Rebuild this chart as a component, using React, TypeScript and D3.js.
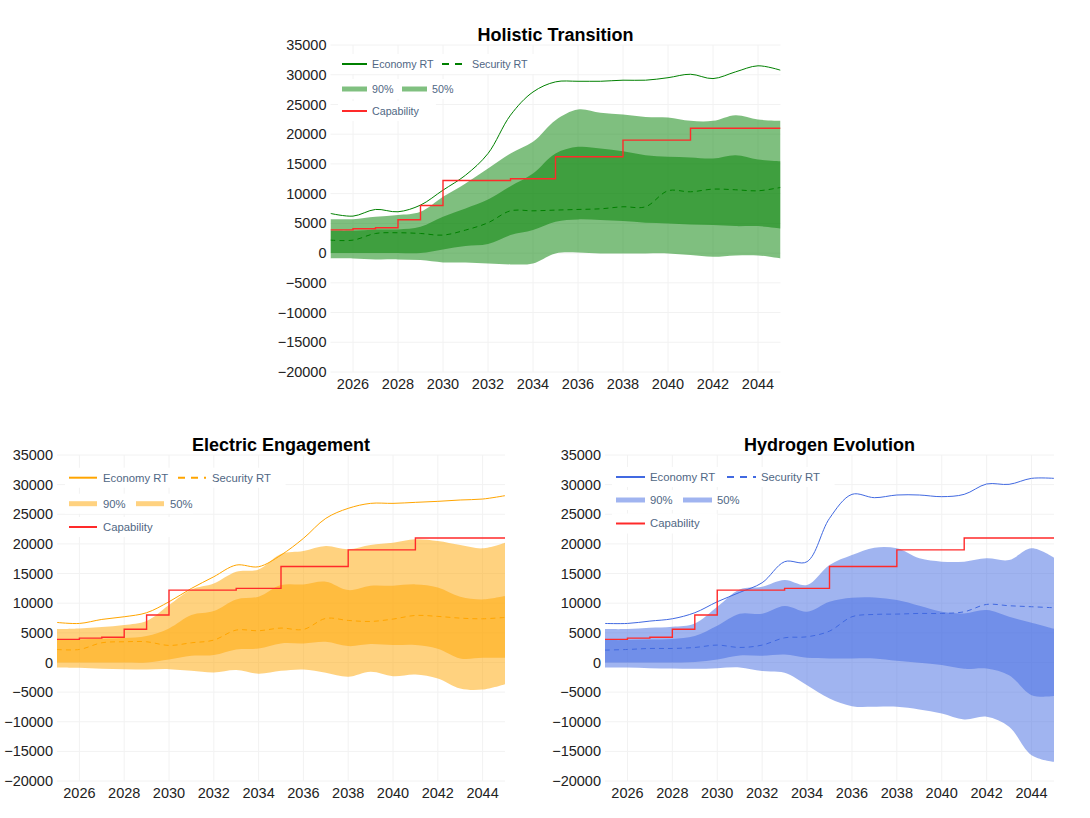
import * as d3 from 'd3';

// shared x categories and capability step line
const years = [2025, 2026, 2027, 2028, 2029, 2030, 2031, 2032, 2033, 2034, 2035, 2036, 2037, 2038, 2039, 2040, 2041, 2042, 2043, 2044, 2045];
const capability = [3900, 4100, 4250, 5600, 8000, 12200, 12200, 12200, 12500, 12500, 16200, 16200, 16200, 19000, 19000, 19000, 21000, 21000, 21000, 21000, 21000];

const xTicks = [2026, 2028, 2030, 2032, 2034, 2036, 2038, 2040, 2042, 2044];
const yTicks = [-20000, -15000, -10000, -5000, 0, 5000, 10000, 15000, 20000, 25000, 30000, 35000];

// Holistic Transition
const holisticEconomy = [6670, 6220, 7340, 6950, 8070, 10590, 13100, 16750, 23200, 27100, 28800, 28900, 28900, 29080, 29080, 29500, 30080, 29350, 30480, 31500, 30760];
const holisticSecurity = [2180, 2180, 3300, 3420, 3300, 3030, 3870, 5100, 7110, 7110, 7230, 7340, 7450, 7790, 7790, 10480, 10310, 10760, 10650, 10480, 11040];
const holisticHigh90 = [5710, 5710, 6100, 6390, 6950, 9470, 11710, 14230, 16750, 18710, 22350, 24150, 23590, 23300, 22910, 22800, 22240, 22240, 23190, 22460, 22240];
const holisticLow90 = [-900, -900, -1060, -1060, -1180, -1570, -1570, -1740, -1900, -1740, -60, 110, -60, -60, -60, -60, -340, -620, -390, -390, -900];
const holisticHigh50 = [3750, 3750, 3980, 3980, 4430, 6110, 7510, 9020, 11260, 13390, 16750, 17870, 17590, 17140, 16470, 16190, 16080, 15910, 16470, 15740, 15460];
const holisticLow50 = [0, 0, 0, 0, 0, 620, 1180, 1510, 3030, 3870, 5270, 5660, 5550, 5380, 5100, 4990, 4820, 4710, 4540, 4540, 4150];

// Electric Engagement
const electricEconomy = [6750, 6580, 7260, 7710, 8390, 10240, 12490, 14460, 16430, 16150, 18120, 20930, 24310, 26000, 26840, 26840, 27010, 27180, 27410, 27570, 28140];
const electricSecurity = [2190, 2190, 3320, 3490, 3490, 2870, 3320, 3770, 5460, 5350, 5800, 5570, 7430, 7090, 6920, 7320, 7930, 7770, 7480, 7370, 7600];
const electricHigh90 = [5630, 5740, 5970, 6300, 6980, 9680, 12320, 13340, 15310, 15700, 18290, 18800, 19640, 19080, 19810, 20200, 20770, 20480, 19810, 19250, 20200];
const electricLow90 = [-840, -900, -1070, -1130, -1180, -1130, -1410, -1690, -1290, -1910, -1410, -1180, -1740, -2420, -1580, -2310, -2030, -2700, -4390, -4560, -3660];
const electricHigh50 = [3770, 3880, 4000, 4110, 4450, 5740, 7990, 8670, 10640, 11090, 13060, 13170, 13620, 12210, 12940, 12940, 13170, 12660, 11090, 10640, 11200];
const electricLow50 = [0, 0, 0, 0, 0, 510, 1130, 1240, 2190, 2360, 3210, 3210, 3490, 2760, 3100, 2930, 2930, 2310, 680, 790, 790];

// Hydrogen Evolution
const hydrogenEconomy = [6580, 6580, 6980, 7370, 8390, 10240, 11820, 13450, 17000, 17000, 24310, 28360, 27800, 28250, 28250, 27970, 28360, 30110, 30050, 31060, 31060];
const hydrogenSecurity = [2080, 2190, 2360, 2360, 2530, 2930, 2530, 2930, 4160, 4330, 5290, 7710, 8100, 8160, 8270, 8270, 8550, 9790, 9570, 9400, 9230];
const hydrogenHigh90 = [5630, 5630, 5850, 6020, 6580, 9400, 12320, 12770, 13900, 13060, 16430, 18120, 19360, 19250, 17560, 17000, 17000, 17560, 17280, 19250, 17670];
const hydrogenLow90 = [-840, -840, -960, -1010, -1070, -960, -840, -1460, -1740, -3830, -6080, -7370, -7480, -7480, -7930, -8610, -9620, -9170, -10860, -15640, -16770];
const hydrogenHigh50 = [3770, 3770, 3880, 3940, 4450, 6190, 8220, 8220, 9510, 8550, 10240, 10920, 10970, 10520, 9570, 8550, 8270, 8830, 7710, 6700, 5680];
const hydrogenLow50 = [0, 0, 0, 0, 60, 510, 1180, 1130, 1350, 790, 680, 680, 680, 280, -60, -450, -1070, -1010, -2140, -5520, -5680];

const FONT = 'Arial, "Liberation Sans", Helvetica, sans-serif';
const LEGEND_TEXT = '#506784';
const fmt = d3.format('d');

interface LegendLayout {
  x: number;
  len: number;
  gap: number;
  font: number;
  rows: number[];
  col2a: number;
  col2b: number;
}

interface ChartProps {
  id: string;
  title: string;
  color: string;
  economy: number[];
  security: number[];
  high90: number[];
  low90: number[];
  high50: number[];
  low50: number[];
  left: number;
  right: number;
  top: number;
  bottom: number;
  legend: LegendLayout;
}

const Chart = ({ id, title, color, economy, security, high90, low90, high50, low50, left, right, top, bottom, legend }: ChartProps) => {
  const x = d3.scaleLinear().domain([2025, 2045]).range([left, right]);
  const y = d3.scaleLinear().domain([-20000, 35000]).range([bottom, top]);

  const band = (lo: number[], hi: number[]) =>
    d3
      .area<number>()
      .x((d) => x(d))
      .y0((_, i) => y(lo[i]))
      .y1((_, i) => y(hi[i]))
      .curve(d3.curveCatmullRom.alpha(0.5))(years) || '';

  const line = (vals: number[]) =>
    d3
      .line<number>()
      .x((d) => x(d))
      .y((_, i) => y(vals[i]))
      .curve(d3.curveCatmullRom.alpha(0.5))(years) || '';

  const stepLine =
    d3
      .line<number>()
      .x((d) => x(d))
      .y((_, i) => y(capability[i]))
      .curve(d3.curveStepAfter)(years) || '';

  const light = d3.interpolateRgb('#ffffff', color)(0.5);
  const lx = left + legend.x;
  const f = legend.font;
  const tw = (s: string) => s.length * f * 0.56;

  const rowBox = (ry: number, endX: number) => (
    <rect x={lx - 4} y={ry - 10} width={endX - lx + 8} height={20} fill="#fff" />
  );

  const r0 = top + legend.rows[0];
  const r1 = top + legend.rows[1];
  const r2 = top + legend.rows[2];
  const c2a = left + legend.col2a;
  const c2b = left + legend.col2b;

  return (
    <g>
      <defs>
        <clipPath id={`clip-${id}`}>
          <rect x={left} y={top} width={right - left} height={bottom - top} />
        </clipPath>
      </defs>
      {/* grid */}
      {yTicks.map((t) => (
        <line key={`gy${t}`} x1={left} x2={right} y1={y(t)} y2={y(t)} stroke="#f2f2f2" strokeWidth={1} />
      ))}
      {xTicks.map((t) => (
        <line key={`gx${t}`} x1={x(t)} x2={x(t)} y1={top} y2={bottom} stroke="#f2f2f2" strokeWidth={1} />
      ))}

      {/* legend backgrounds sit over the grid */}
      {rowBox(r0, c2a + legend.len + legend.gap + tw('Security RT'))}
      {rowBox(r1, c2b + legend.len + legend.gap + tw('50%'))}
      {rowBox(r2, lx + legend.len + legend.gap + tw('Capability'))}

      <g clipPath={`url(#clip-${id})`}>
        <path d={band(low90, high90)} fill={color} fillOpacity={0.5} />
        <path d={band(low50, high50)} fill={color} fillOpacity={0.5} />
        <path d={line(economy)} fill="none" stroke={color} strokeWidth={1} />
        <path d={line(security)} fill="none" stroke={color} strokeWidth={1} strokeDasharray="5,4" />
        <path d={stepLine} fill="none" stroke="#ff2a2a" strokeWidth={1.4} />
      </g>

      {/* axes labels */}
      {yTicks.map((t) => (
        <text key={`ly${t}`} x={left - 4} y={y(t)} dy="0.35em" textAnchor="end" fontSize={14.5} fill="#222" fontFamily={FONT}>
          {fmt(t)}
        </text>
      ))}
      {xTicks.map((t) => (
        <text key={`lx${t}`} x={x(t)} y={bottom + 17} textAnchor="middle" fontSize={14.5} fill="#222" fontFamily={FONT}>
          {t}
        </text>
      ))}

      <text x={(left + right) / 2} y={top - 4} textAnchor="middle" fontSize={18} fontWeight="bold" fill="#000" fontFamily={FONT}>
        {title}
      </text>

      {/* legend */}
      <g fontFamily={FONT} fontSize={f} fill={LEGEND_TEXT}>
        <line x1={lx} x2={lx + legend.len} y1={r0} y2={r0} stroke={color} strokeWidth={2} />
        <text x={lx + legend.len + legend.gap} y={r0} dy="0.35em">Economy RT</text>
        <line x1={c2a} x2={c2a + legend.len} y1={r0} y2={r0} stroke={color} strokeWidth={2} strokeDasharray="7,6" />
        <text x={c2a + legend.len + legend.gap} y={r0} dy="0.35em">Security RT</text>

        <line x1={lx} x2={lx + legend.len} y1={r1} y2={r1} stroke={light} strokeWidth={5} />
        <text x={lx + legend.len + legend.gap} y={r1} dy="0.35em">90%</text>
        <line x1={c2b} x2={c2b + legend.len} y1={r1} y2={r1} stroke={light} strokeWidth={5} />
        <text x={c2b + legend.len + legend.gap} y={r1} dy="0.35em">50%</text>

        <line x1={lx} x2={lx + legend.len} y1={r2} y2={r2} stroke="#ff2a2a" strokeWidth={2} />
        <text x={lx + legend.len + legend.gap} y={r2} dy="0.35em">Capability</text>
      </g>
    </g>
  );
};

const App = () => {
  return (
    <svg
      width={1090}
      height={818}
      style={{ position: 'absolute', left: 0, top: 0, background: '#fff' }}
    >
      <Chart
        id="holistic"
        title="Holistic Transition"
        color="#008000"
        economy={holisticEconomy}
        security={holisticSecurity}
        high90={holisticHigh90}
        low90={holisticLow90}
        high50={holisticHigh50}
        low50={holisticLow50}
        left={330.5}
        right={780.5}
        top={45}
        bottom={372}
        legend={{ x: 11.5, len: 25, gap: 5, font: 10.7, rows: [19, 44, 66], col2a: 111.5, col2b: 71.5 }}
      />
      <Chart
        id="electric"
        title="Electric Engagement"
        color="#ffa500"
        economy={electricEconomy}
        security={electricSecurity}
        high90={electricHigh90}
        low90={electricLow90}
        high50={electricHigh50}
        low50={electricLow50}
        left={57}
        right={505}
        top={455}
        bottom={781}
        legend={{ x: 12, len: 28, gap: 6, font: 11.3, rows: [22.7, 48.7, 72], col2a: 121, col2b: 79 }}
      />
      <Chart
        id="hydrogen"
        title="Hydrogen Evolution"
        color="#4169e1"
        economy={hydrogenEconomy}
        security={hydrogenSecurity}
        high90={hydrogenHigh90}
        low90={hydrogenLow90}
        high50={hydrogenHigh50}
        low50={hydrogenLow50}
        left={605}
        right={1054}
        top={455}
        bottom={781}
        legend={{ x: 11, len: 29, gap: 5, font: 11.3, rows: [22, 45, 68.5], col2a: 122, col2b: 78 }}
      />
    </svg>
  );
};

export default App;
